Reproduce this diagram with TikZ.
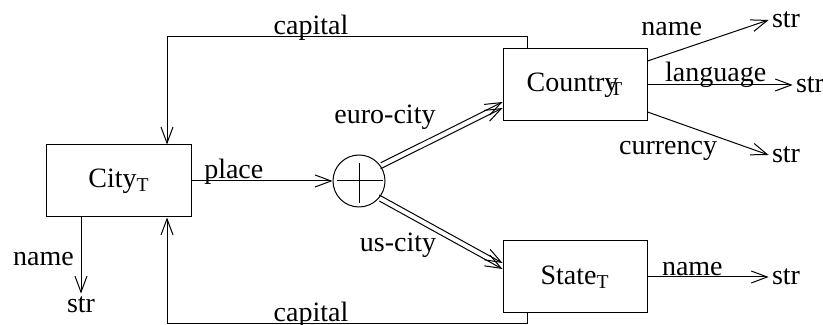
\documentclass[tikz,border=0pt]{standalone}
\usepackage{fontspec}
\setmainfont{Liberation Serif}
\usetikzlibrary{arrows.meta, positioning}

\begin{document}
\begin{tikzpicture}[
    font=\fontsize{14}{16}\selectfont,
    node distance=120pt,
    box/.style={rectangle, draw, line width=0.5pt, minimum width=72pt, minimum height=36pt},
    junction/.style={circle, draw, line width=0.5pt, minimum size=26pt, inner sep=0pt,
        path picture={\draw[line width=0.5pt] ([yshift=-4pt]path picture bounding box.north) -- ([yshift=2pt]path picture bounding box.south);
                      \draw[line width=0.5pt] ([xshift=2pt]path picture bounding box.west) -- ([xshift=-1pt]path picture bounding box.east);}},
    typ/.style={inner sep=1.5pt},
    tag/.style={inner sep=0pt},
    arrow/.style={line width=0.5pt, -{Straight Barb[length=8pt,width=6pt]}}
]
\useasboundingbox (-59.5pt,-72pt) rectangle (352pt,90.5pt);

% 类型
\node[box] (city) at (0,0) {City\textsubscript{T}};
\node[junction, right of=city] (or) {};
\node[box] (country) at (228pt,48pt) {Country\textsubscript{\kern-4pt T}};
\node[box, below of=country, node distance=96pt] (state) {State\textsubscript{T}};

% 基本类型
\node[typ] (citystr) at ([shift={(-19pt,-62pt)}]city) {str};
\node[typ] (namestr) at ([shift={(105.5pt,32.5pt)}]country) {str};
\node[typ] (langstr) at ([shift={(117.5pt,0pt)}]country) {str};
\node[typ] (curstr) at ([shift={(105.5pt,-35pt)}]country) {str};
\node[typ] (statestr) at ([shift={(105.5pt,0pt)}]state) {str};

% 连接线
\draw[arrow] (city.east) -- node[pos=0.3, above, tag, yshift=-2pt] {place} (or.west);
\draw[arrow] ([yshift=1.5pt]or.35) -- ([yshift=-8.5pt]country.west);
\draw[arrow] ([yshift=-1.5pt]or.35) -- ([yshift=-11.5pt]country.west);
\draw[arrow] ([yshift=1.5pt]or.-40) -- ([yshift=7pt]state.west);
\draw[arrow] ([yshift=-1.5pt]or.-40) -- ([yshift=4pt]state.west);
\draw[arrow] ([xshift=-24pt]country.north) -- ++(0,6pt) -| node[pos=0.3, above, tag, yshift=-2pt] {capital} ([xshift=24pt]city.north);
\draw[arrow] ([xshift=-24pt]state.south) -- ++(0,-5pt) -| node[pos=0.3, above, tag, yshift=-2pt] {capital} ([xshift=24pt]city.south);
\draw[arrow] ([xshift=-19pt]city.south) -- node[pos=0.55, left] {name} (citystr.north);
\draw[arrow] ([yshift=12pt]country.east) -- node[pos=0.2, above=5pt] {name} (namestr.west);
\draw[arrow] (country.east) -- node[pos=0.47, above, tag, yshift=-1.5pt] {language} (langstr.west);
\draw[arrow] ([yshift=-13.5pt]country.east) -- node[pos=0.17, below=7.5pt] {currency} (curstr.west);
\draw[arrow] (state.east) -- node[pos=0.37, above, tag, yshift=0.5pt] {name} (statestr.west);

% 标签
\node[tag] at ([shift={(13pt,32pt)}]or) {euro-city};
\node[tag] at ([shift={(19.5pt,-32pt)}]or) {us-city};
\end{tikzpicture}
\end{document}
